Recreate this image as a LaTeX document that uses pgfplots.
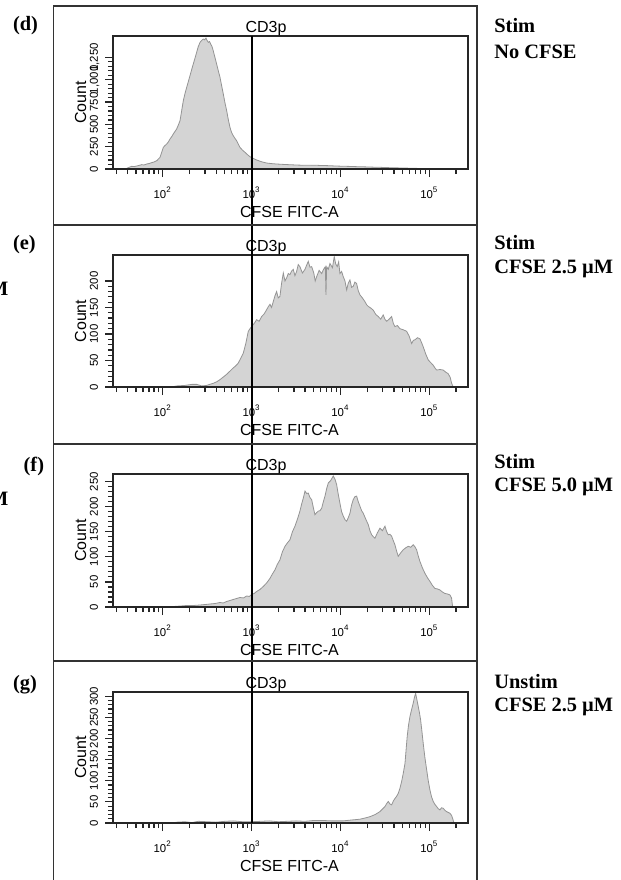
\documentclass[border=0pt]{standalone}
\usepackage{pgfplots}
\usepackage{pgfplotstable}
\pgfplotsset{compat=1.18}
\usepackage{fontspec}
\setmainfont{Liberation Sans}
\newfontfamily\timesbf{Liberation Serif}

\definecolor{histfill}{gray}{0.83}
\definecolor{histline}{gray}{0.58}

\newcommand\tickfont{\fontsize{5.7}{6.5}\selectfont}
\newcommand\labfont{\fontsize{8}{9.6}\selectfont}
\newcommand\panfont{\timesbf\bfseries\fontsize{10.2}{12}\selectfont}

% CFSE histograms of CD3+ cells; x is log10 of FITC-A intensity
\pgfplotstableread{
lg count
1.560 0
1.595 7
1.630 22
1.651 30
1.680 27
1.708 34
1.735 40
1.764 49
1.790 45
1.820 56
1.850 62
1.876 71
1.905 80
1.933 93
1.950 110
1.970 131
1.990 190
2.007 243
2.025 262
2.045 280
2.065 305
2.082 336
2.100 360
2.119 392
2.138 420
2.157 448
2.175 490
2.195 541
2.213 650
2.232 765
2.250 842
2.270 915
2.290 985
2.307 1045
2.325 1110
2.344 1176
2.363 1240
2.382 1307
2.400 1370
2.420 1419
2.438 1440
2.457 1456
2.472 1448
2.487 1467
2.500 1440
2.513 1419
2.527 1428
2.540 1400
2.555 1372
2.569 1325
2.588 1250
2.607 1176
2.626 1100
2.645 1027
2.663 935
2.682 840
2.700 745
2.720 653
2.738 555
2.757 467
2.775 410
2.794 373
2.812 345
2.832 317
2.850 280
2.869 243
2.897 212
2.926 187
2.955 160
2.982 138
3.020 118
3.057 101
3.110 82
3.170 67
3.230 60
3.282 56
3.350 52
3.432 48
3.520 44
3.620 41
3.700 43
3.769 40
3.850 38
3.940 34
4.020 31
4.107 29
4.190 26
4.276 24
4.360 21
4.444 19
4.550 15
4.669 12
4.780 9
4.894 6
5.000 4
5.119 2
5.200 1
5.288 0
}\histD

\pgfplotstableread{
lg count
2.100 0
2.157 2
2.250 3
2.330 5
2.382 5
2.440 2
2.495 3
2.530 5
2.569 7
2.610 10
2.645 14
2.683 19
2.720 24
2.757 30
2.794 36
2.822 40
2.850 45
2.880 55
2.907 64
2.935 82
2.963 105
2.982 110
3.001 114
3.030 120
3.057 127
3.085 124
3.114 133
3.142 138
3.170 146
3.190 152
3.207 156
3.225 150
3.244 161
3.263 172
3.282 180
3.300 168
3.319 171
3.338 196
3.357 215
3.376 200
3.395 206
3.413 214
3.432 212
3.451 219
3.469 222
3.488 210
3.507 218
3.525 231
3.544 227
3.572 215
3.601 222
3.620 230
3.638 237
3.657 226
3.676 227
3.700 215
3.716 200
3.732 208
3.760 220
3.789 214
3.810 222
3.830 227
3.837 174
3.845 227
3.863 222
3.882 233
3.910 225
3.930 246
3.947 232
3.964 227
3.980 236
3.994 214
4.013 218
4.032 208
4.051 200
4.070 183
4.088 196
4.107 202
4.125 188
4.144 190
4.163 198
4.182 195
4.200 182
4.219 174
4.247 168
4.276 161
4.295 155
4.313 152
4.341 149
4.369 145
4.397 137
4.425 133
4.453 128
4.481 136
4.500 128
4.520 124
4.548 128
4.576 133
4.595 120
4.613 114
4.641 116
4.669 110
4.707 108
4.745 105
4.773 96
4.801 82
4.820 88
4.838 89
4.866 93
4.894 91
4.912 84
4.931 76
4.960 62
4.988 51
5.016 46
5.044 41
5.063 36
5.082 32
5.120 33
5.156 32
5.185 28
5.213 25
5.235 18
5.251 7
5.269 0
}\histE

\pgfplotstableread{
lg count
2.050 0
2.119 1
2.200 2
2.270 3
2.345 3
2.420 4
2.480 5
2.532 6
2.590 7
2.645 9
2.680 8
2.720 11
2.757 13
2.794 15
2.832 17
2.870 19
2.908 18
2.945 22
2.975 21
3.001 25
3.030 27
3.057 31
3.095 35
3.132 41
3.170 48
3.207 57
3.235 66
3.263 74
3.290 85
3.319 94
3.347 110
3.376 121
3.404 128
3.432 134
3.460 150
3.488 161
3.516 175
3.544 191
3.563 205
3.582 217
3.601 231
3.620 226
3.638 227
3.657 218
3.676 214
3.695 198
3.713 184
3.732 188
3.750 191
3.770 192
3.789 197
3.808 210
3.826 221
3.845 236
3.863 247
3.890 252
3.919 261
3.938 255
3.957 244
3.975 225
3.994 207
4.013 190
4.032 181
4.051 174
4.070 171
4.088 178
4.107 187
4.125 203
4.144 214
4.163 220
4.182 221
4.200 210
4.219 201
4.238 192
4.256 187
4.285 175
4.313 164
4.332 152
4.351 144
4.370 140
4.388 137
4.416 148
4.444 157
4.472 152
4.501 161
4.520 150
4.538 144
4.557 145
4.576 141
4.595 132
4.613 124
4.631 112
4.650 101
4.678 108
4.706 114
4.735 118
4.763 121
4.791 119
4.819 124
4.838 120
4.857 114
4.875 102
4.894 91
4.922 78
4.951 67
4.980 58
5.007 51
5.035 43
5.063 37
5.091 36
5.119 34
5.147 30
5.175 27
5.204 26
5.232 24
5.250 18
5.262 0
}\histF

\pgfplotstableread{
lg count
2.100 0
2.163 2
2.250 3
2.330 1
2.400 4
2.500 3
2.600 2
2.700 4
2.800 5
2.900 3
3.000 3
3.100 4
3.200 5
3.300 3
3.400 4
3.500 5
3.600 4
3.700 6
3.800 6
3.900 5
4.028 5
4.120 7
4.219 9
4.280 12
4.332 15
4.390 20
4.444 27
4.472 33
4.501 39
4.520 46
4.538 51
4.557 45
4.576 43
4.595 52
4.613 58
4.631 63
4.650 70
4.669 82
4.688 98
4.707 118
4.726 141
4.738 172
4.751 205
4.766 232
4.782 252
4.800 268
4.819 284
4.833 298
4.846 307
4.860 292
4.875 276
4.888 262
4.902 244
4.916 218
4.931 189
4.950 155
4.970 126
4.988 100
5.007 78
5.025 62
5.044 51
5.063 44
5.082 39
5.100 34
5.119 31
5.137 36
5.156 35
5.175 30
5.194 27
5.213 25
5.232 23
5.250 18
5.262 11
5.277 0
}\histG

\pgfplotsset{
  facs/.style={
    scale only axis, width=177.5pt,
    xmin=1.441, xmax=5.435, ymin=0,
    axis on top,
    /pgf/number format/assume math mode=true,
    axis line style={line width=1.1pt, black!85},
    tick pos=left, tick align=outside,
    major tick length=4pt, minor tick length=2.6pt,
    tick style={line width=0.6pt, black!85},
    xtick={2,3,4,5},
    xticklabels={10\textsuperscript{2},10\textsuperscript{3},10\textsuperscript{4},10\textsuperscript{5}},
    minor xtick={1.477,1.602,1.699,1.778,1.845,1.903,1.954,
                 2.301,2.477,2.602,2.699,2.778,2.845,2.903,2.954,
                 3.301,3.477,3.602,3.699,3.778,3.845,3.903,3.954,
                 4.301,4.477,4.602,4.699,4.778,4.845,4.903,4.954,5.301},
    xticklabel style={font=\tickfont, anchor=base, yshift=-10.5pt},
    yticklabel style={font=\tickfont, anchor=base, xshift=-3.5pt, rotate=90},
    minor y tick num=4,
  },
  hist/.style={fill=histfill, draw=histline, line width=0.4pt},
}

\begin{document}
\begin{tikzpicture}
% (d) stimulated, no CFSE
\begin{axis}[facs, at={(56.5pt,-84.5pt)}, anchor=south west, height=66.5pt,
  ymax=1490, ytick={0,250,500,750,1000,1250},
  yticklabels={0,250,500,750,{1,000},{1,250}}]
  \addplot[hist] table[x=lg, y=count] {\histD} \closedcycle;
  \coordinate (gatetop) at (axis cs:3,1490);
\end{axis}
% (e) stimulated, CFSE 2.5 uM
\begin{axis}[facs, at={(56.5pt,-193.5pt)}, anchor=south west, height=66pt,
  ymax=249, ytick={0,50,100,150,200}, yticklabels={0,50,100,150,200}]
  \addplot[hist] table[x=lg, y=count] {\histE} \closedcycle;
\end{axis}
% (f) stimulated, CFSE 5.0 uM
\begin{axis}[facs, at={(56.5pt,-303.5pt)}, anchor=south west, height=66.5pt,
  ymax=265, ytick={0,50,100,150,200,250}, yticklabels={0,50,100,150,200,250}]
  \addplot[hist] table[x=lg, y=count] {\histF} \closedcycle;
\end{axis}
% (g) unstimulated, CFSE 2.5 uM
\begin{axis}[facs, at={(56.5pt,-411.5pt)}, anchor=south west, height=65.5pt,
  ymax=310, ytick={0,50,100,150,200,250,300}, yticklabels={0,50,100,150,200,250,300}]
  \addplot[hist] table[x=lg, y=count] {\histG} \closedcycle;
  \coordinate (gatebot) at (axis cs:3,0);
\end{axis}
% gate at 10^3 across all panels
\draw[line width=1pt, black] (gatetop) -- (gatebot);

\begin{scope}[x=0.5pt, y=-0.5pt]
  \path[use as bounding box] (0,0) rectangle (621,880);
  % panel frames
  \draw[line width=0.65pt, black!80] (53.5,6) rectangle (477,884);
  \foreach \yy in {225,444,661} \draw[line width=0.65pt, black!80] (53.5,\yy) -- (477,\yy);
  % axis titles and labels
  \foreach \top/\bot in {36/169, 255/387, 474/607, 692/823} {
    \node[font=\labfont, anchor=base, inner sep=0] at (266,\top-3.7) {CD3p};
    \node[font=\labfont, anchor=base, inner sep=0] at (289.5,\bot+48.5) {CFSE FITC-A};
    \node[font=\labfont, anchor=base, inner sep=0, rotate=90] at (86,{(\top+\bot)/2}) {Count};
  }
  % panel letters
  \node[font=\panfont, anchor=base west, inner sep=0] at (12.7,30) {(d)};
  \node[font=\panfont, anchor=base west, inner sep=0] at (12.7,249.7) {(e)};
  \node[font=\panfont, anchor=base west, inner sep=0] at (23.3,471.4) {(f)};
  \node[font=\panfont, anchor=base west, inner sep=0] at (12.7,689.7) {(g)};
  \node[font=\panfont, anchor=base east, inner sep=0] at (8.7,295) {M};
  \node[font=\panfont, anchor=base east, inner sep=0] at (8.7,505) {M};
  % conditions
  \node[font=\panfont, anchor=base west, inner sep=0] at (494,32.7) {Stim};
  \node[font=\panfont, anchor=base west, inner sep=0] at (494,58.3) {No CFSE};
  \node[font=\panfont, anchor=base west, inner sep=0] at (494,249.3) {Stim};
  \node[font=\panfont, anchor=base west, inner sep=0] at (494,273.3) {CFSE 2.5 µM};
  \node[font=\panfont, anchor=base west, inner sep=0] at (494,468.3) {Stim};
  \node[font=\panfont, anchor=base west, inner sep=0] at (494,491.7) {CFSE 5.0 µM};
  \node[font=\panfont, anchor=base west, inner sep=0] at (494,688.3) {Unstim};
  \node[font=\panfont, anchor=base west, inner sep=0] at (494,711.7) {CFSE 2.5 µM};
\end{scope}
\end{tikzpicture}
\end{document}
